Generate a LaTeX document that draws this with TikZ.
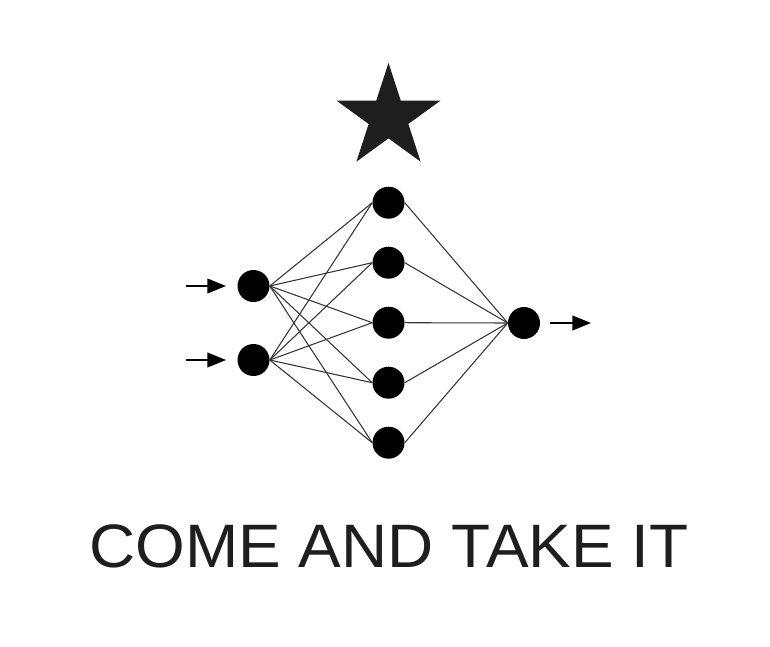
\documentclass[tikz,border=0pt]{standalone}
\usepackage{fontspec}
\setmainfont{Liberation Sans}
\usetikzlibrary{arrows.meta,shapes.geometric}
\definecolor{ink}{HTML}{1E1E1E}
\begin{document}
\begin{tikzpicture}[x=0.75pt,y=-0.75pt,
  neuron/.style={circle,fill=black,draw=none,minimum size=24pt,inner sep=0pt},
  edge/.style={draw=ink!90,line width=0.8pt},
  sig/.style={draw=black,line width=1.5pt,-{Triangle[length=14pt,width=11pt]}}]
\useasboundingbox (0,0) rectangle (770,646);
\node[star,star points=5,star point ratio=2.618,fill=ink,draw=none,minimum size=82pt,inner sep=0pt] (st) at (388.5,117.5) {};
\node[neuron] (i1) at (253.5,286) {};
\node[neuron] (i2) at (253.5,360) {};
\foreach \k/\y in {1/202.7,2/262.7,3/322.7,4/382.7,5/442.7}
  \node[neuron] (h\k) at (388.5,\y) {};
\node[neuron] (o) at (524,323) {};
\foreach \i in {1,2}
  \foreach \k in {1,...,5}
    \draw[edge] (i\i.east) -- (h\k.west);
\foreach \k in {1,...,5}
  \draw[edge] (h\k.east) -- (o.west);
\coordinate (a1) at (186,286);
\coordinate (a2) at (186,360);
\coordinate (b1) at (226,286);
\coordinate (b2) at (226,360);
\coordinate (c) at (550,323);
\coordinate (d) at (591,323);
\draw[sig] (a1) -- (b1);
\draw[sig] (a2) -- (b2);
\draw[sig] (c) -- (d);
\node[text=ink,font=\fontsize{46}{50}\selectfont,inner sep=0pt,anchor=base,xscale=1.042] (t) at (389,567) {COME AND TAKE IT};
\end{tikzpicture}
\end{document}
